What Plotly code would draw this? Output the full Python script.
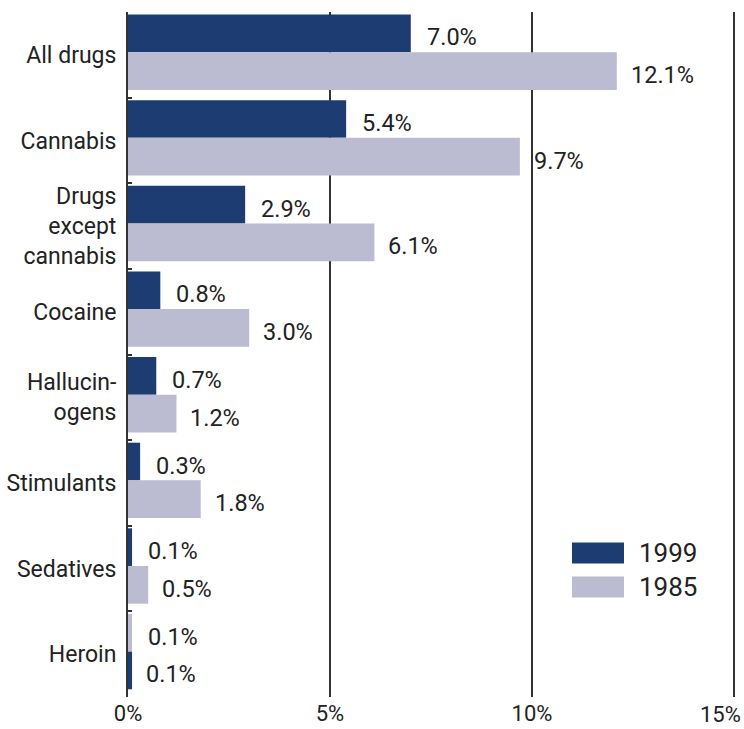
import plotly.graph_objects as go

categories = ["All drugs", "Cannabis", "Drugs<br>except<br>cannabis", "Cocaine",
              "Hallucin-<br>ogens", "Stimulants", "Sedatives", "Heroin"]
series_names = ["1999", "1985"]
values_1999 = [7.0, 5.4, 2.9, 0.8, 0.7, 0.3, 0.1, 0.1]
values_1985 = [12.1, 9.7, 6.1, 3.0, 1.2, 1.8, 0.5, 0.1]
x_tick_vals = [0, 5, 10, 15]
x_tick_text = ["0%", "5%", "10%", "15%"]

DARK = "#1c3c72"
LIGHT = "#bbbbd2"
FONT = "Roboto"
TXT = "#222222"

# In the original, the Heroin pair is drawn with colours swapped (both are 0.1%)
colors_1999 = [DARK] * (len(categories) - 1) + [LIGHT]
colors_1985 = [LIGHT] * (len(categories) - 1) + [DARK]

BW = 0.44
OFF1 = -0.47
OFF2 = OFF1 + BW

fig = go.Figure()
fig.add_trace(go.Bar(
    name=series_names[0], y=categories, x=values_1999, orientation="h",
    marker=dict(color=colors_1999, line=dict(width=0)),
    width=BW, offset=OFF1, showlegend=False,
))
fig.add_trace(go.Bar(
    name=series_names[1], y=categories, x=values_1985, orientation="h",
    marker=dict(color=colors_1985, line=dict(width=0)),
    width=BW, offset=OFF2, showlegend=False,
))

annotations = []
for i, (a, b) in enumerate(zip(values_1999, values_1985)):
    annotations.append(dict(x=a, y=i + OFF1 + BW / 2, xref="x", yref="y",
                            text=f"{a:.1f}%", showarrow=False, xanchor="left",
                            xshift=14, yshift=-4,
                            font=dict(family=FONT, size=23.5, color=TXT)))
    annotations.append(dict(x=b, y=i + OFF2 + BW / 2, xref="x", yref="y",
                            text=f"{b:.1f}%", showarrow=False, xanchor="left",
                            xshift=12, yshift=-4,
                            font=dict(family=FONT, size=23.5, color=TXT)))

plot_top, plot_bottom = 12, 697
plot_left, plot_right = 128, 738


def px_to_paper_y(py):
    return (plot_bottom - py) / (plot_bottom - plot_top)


def px_to_paper_x(px):
    return (px - plot_left) / (plot_right - plot_left)


# the last x tick label sits at the figure edge, so it is drawn shifted left (as in the original)
tick_text_axis = x_tick_text[:-1] + [""]
annotations.append(dict(x=x_tick_vals[-1], y=0, xref="x", yref="paper",
                        text=x_tick_text[-1], showarrow=False, xanchor="center",
                        yanchor="top", xshift=-13, yshift=-3,
                        font=dict(family=FONT, size=22, color=TXT)))

# custom legend (large swatches like the original)
shapes = []
legend_items = [(series_names[0], DARK, 553), (series_names[1], LIGHT, 587)]
for name, col, yc in legend_items:
    shapes.append(dict(type="rect", xref="paper", yref="paper",
                       x0=px_to_paper_x(572), x1=px_to_paper_x(624),
                       y0=px_to_paper_y(yc + 10.5), y1=px_to_paper_y(yc - 10.5),
                       fillcolor=col, line=dict(width=0), layer="above"))
    annotations.append(dict(x=px_to_paper_x(637), y=px_to_paper_y(yc), xref="paper", yref="paper",
                            text=name, showarrow=False, xanchor="left", yanchor="middle",
                            font=dict(family=FONT, size=26, color=TXT)))

fig.update_layout(
    width=744, height=729,
    margin=dict(l=plot_left, r=744 - plot_right, t=plot_top, b=729 - plot_bottom),
    paper_bgcolor="white", plot_bgcolor="white",
    barmode="group",
    font=dict(family=FONT, size=23, color=TXT),
    annotations=annotations, shapes=shapes,
    xaxis=dict(range=[0, 15.1], tickvals=x_tick_vals, ticktext=tick_text_axis,
               showgrid=True, gridcolor="#333333", gridwidth=2,
               zeroline=False, showline=False, ticks="", automargin=False,
               ticklabelstandoff=1,
               tickfont=dict(family=FONT, size=22, color=TXT), fixedrange=True),
    yaxis=dict(type="category", categoryorder="array", categoryarray=categories,
               range=[7.5, -0.5], showgrid=False, zeroline=False, automargin=False,
               showline=True, linecolor="#333333", linewidth=2,
               ticks="inside", tickson="boundaries", ticklen=4, tickwidth=2,
               tickcolor="#333333", ticklabelstandoff=5,
               tickfont=dict(family=FONT, size=23, color=TXT), fixedrange=True),
)

fig.write_html("out.html", config={"displayModeBar": False},
               post_script="document.body.style.margin='0';document.body.style.overflow='hidden';")
